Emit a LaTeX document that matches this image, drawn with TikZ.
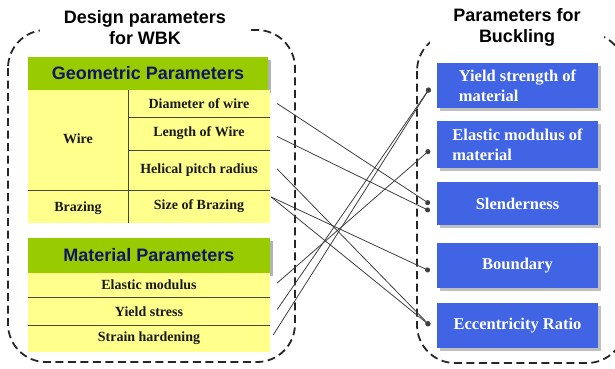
\documentclass[tikz,border=0pt]{standalone}
\usepackage{fontspec}
\setmainfont{Liberation Serif}
\newfontfamily\headfont{Liberation Sans}
\usetikzlibrary{shadows,arrows.meta}
\definecolor{hdrgreen}{RGB}{153,204,0}
\definecolor{hdrtext}{RGB}{16,22,100}
\definecolor{cellyellow}{RGB}{255,255,140}
\definecolor{boxblue}{RGB}{64,100,228}
\definecolor{rulecolor}{RGB}{70,70,50}

\begin{document}
\begin{tikzpicture}[x=1pt,y=-1pt,
  groupframe/.style={draw=black!85, line width=1.8pt, dash pattern=on 8pt off 4.5pt, rounded corners=38pt},
  grouptitle/.style={fill=white, font=\headfont\bfseries\fontsize{18}{21}\selectfont, align=center, inner xsep=0pt, inner ysep=2pt},
  header/.style={fill=hdrgreen, text=hdrtext, font=\headfont\bfseries\fontsize{18}{21}\selectfont, inner sep=0pt,
    drop shadow={shadow xshift=3pt, shadow yshift=-3pt, fill=black!50, opacity=0.6}},
  cell/.style={font=\bfseries\fontsize{14}{16}\selectfont, inner sep=0pt, text=black!90},
  result/.style={fill=boxblue, text=white, font=\bfseries\fontsize{16.5}{20}\selectfont, inner sep=0pt,
    minimum width=161pt, align=left,
    drop shadow={shadow xshift=3pt, shadow yshift=-3pt, fill=black!50, opacity=0.5}},
  tableline/.style={draw=rulecolor, line width=0.9pt},
  link/.style={draw=black!75, line width=0.8pt, -{Circle[length=5pt]}}]

\useasboundingbox (0,0) rectangle (615,369);

% dashed group frames and their titles
\draw[groupframe] (8,30) rectangle (295,362);
\draw[groupframe] (417,33) rectangle (625,363);
\node[grouptitle, minimum width=210pt] (ltitle) at (145,27.5) {Design parameters\\for WBK};
\node[grouptitle, minimum width=174pt] (rtitle) at (517,27) {Parameters for\\Buckling};

% geometric parameters table
\node[header, minimum width=240pt, minimum height=33pt] (geo) at (148,73.5) {Geometric Parameters};
\fill[cellyellow] (28,90) rectangle (270,223);
\draw[tableline] (128,90) -- (128,223);
\draw[tableline] (128,117) -- (270,117);
\draw[tableline] (128,150) -- (270,150);
\draw[tableline] (28,190) -- (270,190);
\node[cell, minimum width=100pt, minimum height=100pt] (wire) at (78,139) {Wire};
\node[cell, minimum width=142pt, minimum height=27pt] (dia) at (199,103.5) {Diameter of wire};
\node[cell, minimum width=142pt, minimum height=33pt] (len) at (199,133.5) {Length of Wire};
\node[cell, minimum width=142pt, minimum height=40pt] (hel) at (199,170) {Helical pitch radius};
\node[cell, minimum width=100pt, minimum height=33pt] (braz) at (78,208) {Brazing};
\node[cell, minimum width=142pt, minimum height=33pt] (sob) at (199,206.5) {Size of Brazing};

% material parameters table
\node[header, minimum width=242pt, minimum height=35pt] (mat) at (149,255.5) {Material Parameters};
\fill[cellyellow] (28,273) rectangle (270,352);
\draw[tableline] (28,297) -- (270,297);
\draw[tableline] (28,325) -- (270,325);
\node[cell, minimum width=242pt, minimum height=24pt] (em) at (149,285) {Elastic modulus};
\node[cell, minimum width=242pt, minimum height=28pt] (ys) at (149,311.5) {Yield stress};
\node[cell, minimum width=242pt, minimum height=27pt] (sh) at (149,338.5) {Strain hardening};

% buckling parameters
\node[result, minimum height=45pt] (b1) at (517.5,85.5) {Yield strength of\\material};
\node[result, minimum height=47pt] (b2) at (517.5,144.5) {Elastic modulus of\\material};
\node[result, minimum height=43pt, align=center] (b3) at (517.5,203.5) {Slenderness};
\node[result, minimum height=45pt, align=center] (b4) at (517.5,265.5) {Boundary};
\node[result, minimum height=45pt, align=center] (b5) at (517.5,325.5) {Eccentricity Ratio};

% influence links
\draw[link] ([shift={(7,0)}]dia.east) -- ([shift={(-7,0.5)}]b3.west);
\draw[link] ([shift={(7,3)}]len.east) -- ([shift={(-7,7.5)}]b3.west);
\draw[link] ([shift={(7,-1)}]hel.east) -- ([shift={(-7,0)}]b5.west);
\draw[link] ([shift={(1,-9.5)}]sob.east) -- ([shift={(-7,5.5)}]b4.west);
\draw[link] ([shift={(1,-9.5)}]sob.east) -- ([shift={(-7,0)}]b5.west);
\draw[link] ([shift={(7,-2)}]em.east) -- ([shift={(-7,5.5)}]b2.west);
\draw[link] ([shift={(7,-2)}]ys.east) -- ([shift={(-7,2.5)}]b1.west);
\draw[link] ([shift={(3,-3.5)}]sh.east) -- ([shift={(-7,2.5)}]b1.west);
\end{tikzpicture}
\end{document}
